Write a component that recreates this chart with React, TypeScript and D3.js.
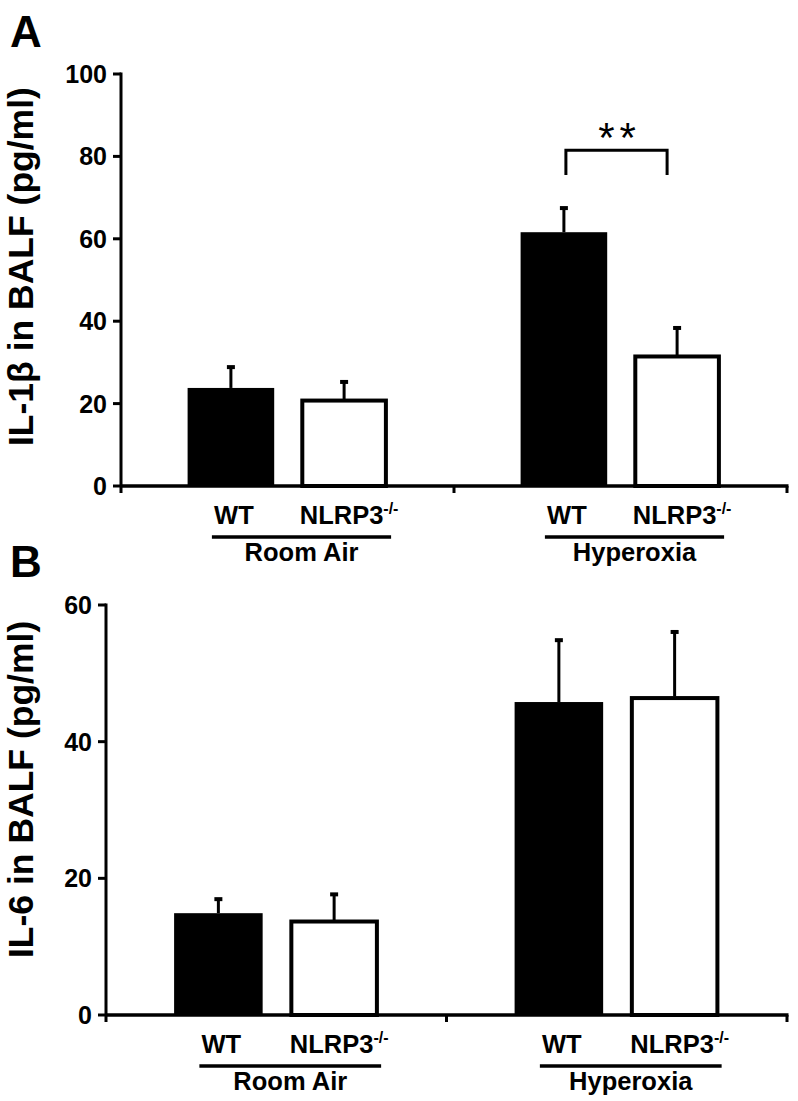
import React from "react";
import * as d3 from "d3";

// ---- data ----
const groups = ["Room Air", "Hyperoxia"];
const genotypes = ["WT", "NLRP3"];
// order: [Room Air WT, Room Air NLRP3-/-, Hyperoxia WT, Hyperoxia NLRP3-/-]
const il1bMean = [23.8, 21.1, 61.6, 31.8];
const il1bErr = [5.3, 4.4, 6.1, 6.8];
const il6Mean = [14.9, 13.9, 45.8, 46.6];
const il6Err = [2.2, 3.9, 9.2, 9.6];
const il1bTicks = [0, 20, 40, 60, 80, 100];
const il6Ticks = [0, 20, 40, 60];
const il1bSig = { label: "**", top: 81.5, leg: 75.5 };

const FONT = "'Liberation Sans', Arial, Helvetica, sans-serif";

type PanelProps = {
  letter: string;
  letterY: number;
  yLabel: string;
  yLabelStart: number;
  axisX: number;
  xEnd: number;
  yBottom: number;
  yTop: number;
  ticks: number[];
  means: number[];
  errs: number[];
  sig?: { label: string; top: number; leg: number };
};

function Panel(p: PanelProps) {
  const y = d3
    .scaleLinear()
    .domain([0, d3.max(p.ticks) as number])
    .range([p.yBottom, p.yTop]);
  const gx = d3.scaleBand().domain(groups).range([p.axisX, p.xEnd]).padding(0);
  const W = gx.bandwidth();
  const ix = d3
    .scaleBand()
    .domain(genotypes)
    .range([0.2 * W, 0.8 * W])
    .paddingInner(0.235)
    .paddingOuter(0);
  const bw = ix.bandwidth();

  const bars = groups.flatMap((g, gi) =>
    genotypes.map((gt, ti) => {
      const i = gi * 2 + ti;
      const x0 = (gx(g) as number) + (ix(gt) as number);
      return { g, gt, i, x0, cx: x0 + bw / 2, mean: p.means[i], err: p.errs[i] };
    })
  );

  const stroke = "#000";
  return (
    <g>
      <text x={10} y={p.letterY} fontFamily={FONT} fontWeight="bold" fontSize={44}>
        {p.letter}
      </text>
      {/* y label */}
      <text
        transform={`translate(33,${p.yLabelStart}) rotate(-90)`}
        fontFamily={FONT}
        fontWeight="bold"
        fontSize={35.5}
        textAnchor="start"
      >
        {p.yLabel}
      </text>

      {/* bars */}
      {bars.map((b) => {
        const yTopBar = y(b.mean);
        const yErr = y(b.mean + b.err);
        const black = b.gt === "WT";
        return (
          <g key={b.i}>
            <line x1={b.cx} x2={b.cx} y1={yTopBar} y2={yErr} stroke={stroke} strokeWidth={3} />
            <line x1={b.cx - 4} x2={b.cx + 4} y1={yErr + 1} y2={yErr + 1} stroke={stroke} strokeWidth={4} />
            {black ? (
              <rect x={b.x0} y={yTopBar} width={bw} height={p.yBottom - yTopBar} fill="#000" />
            ) : (
              <rect
                x={b.x0 + 1.5}
                y={yTopBar + 1.5}
                width={bw - 3}
                height={p.yBottom - yTopBar - 1.5}
                fill="#fff"
                stroke={stroke}
                strokeWidth={4}
              />
            )}
          </g>
        );
      })}

      {/* y axis */}
      <line x1={p.axisX} x2={p.axisX} y1={p.yTop - 1.5} y2={p.yBottom + 7} stroke={stroke} strokeWidth={3} />
      {p.ticks.map((t) => (
        <g key={t}>
          <line x1={p.axisX - 8} x2={p.axisX} y1={y(t)} y2={y(t)} stroke={stroke} strokeWidth={3} />
          <text
            x={p.axisX - 14}
            y={y(t)}
            dy="0.36em"
            textAnchor="end"
            fontFamily={FONT}
            fontWeight="bold"
            fontSize={25}
          >
            {t}
          </text>
        </g>
      ))}

      {/* x axis */}
      <line x1={p.axisX} x2={p.xEnd + 1.5} y1={p.yBottom} y2={p.yBottom} stroke={stroke} strokeWidth={3.5} />
      {groups.map((g) => (
        <line
          key={g}
          x1={(gx(g) as number) + W}
          x2={(gx(g) as number) + W}
          y1={p.yBottom}
          y2={p.yBottom + 7}
          stroke={stroke}
          strokeWidth={3}
        />
      ))}

      {/* x labels */}
      {groups.map((g, gi) => {
        const bWT = bars[gi * 2];
        const bKO = bars[gi * 2 + 1];
        const u1 = bWT.cx - 19;
        const u2 = bKO.cx + 47;
        return (
          <g key={g} fontFamily={FONT} fontWeight="bold">
            <text x={bWT.cx + 3} y={p.yBottom + 38} textAnchor="middle" fontSize={25.5}>
              WT
            </text>
            <text x={bKO.cx + 5} y={p.yBottom + 38} textAnchor="middle" fontSize={25.5}>
              NLRP3
              <tspan fontSize={16} dy={-10}>
                -/-
              </tspan>
            </text>
            <line x1={u1} x2={u2} y1={p.yBottom + 51} y2={p.yBottom + 51} stroke={stroke} strokeWidth={3.5} />
            <text x={(u1 + u2) / 2} y={p.yBottom + 75} textAnchor="middle" fontSize={25.5}>
              {g}
            </text>
          </g>
        );
      })}

      {/* significance */}
      {p.sig && (() => {
        const a = bars[2].cx + 2;
        const b = bars[3].cx - 10;
        const yt = y(p.sig.top);
        const yl = y(p.sig.leg);
        return (
          <g>
            <path
              d={`M${a},${yl}V${yt}H${b}V${yl}`}
              fill="none"
              stroke={stroke}
              strokeWidth={3}
            />
            <text
              x={(a + b) / 2 + 3}
              y={yt + 2}
              textAnchor="middle"
              fontFamily={FONT}
              fontSize={42}
              letterSpacing={5}
            >
              {p.sig.label}
            </text>
          </g>
        );
      })()}
    </g>
  );
}

export default function App() {
  return (
    <svg
      width={798}
      height={1101}
      viewBox="0 0 798 1101"
      style={{ position: "absolute", left: 0, top: 0, background: "#fff" }}
    >
      <rect width={798} height={1101} fill="#fff" />
      <Panel
        letter="A"
        letterY={47}
        yLabel="IL-1β in BALF (pg/ml)"
        yLabelStart={446}
        axisX={121}
        xEnd={787}
        yBottom={486}
        yTop={74}
        ticks={il1bTicks}
        means={il1bMean}
        errs={il1bErr}
        sig={il1bSig}
      />
      <Panel
        letter="B"
        letterY={577}
        yLabel="IL-6 in BALF (pg/ml)"
        yLabelStart={958}
        axisX={106}
        xEnd={787}
        yBottom={1015}
        yTop={605}
        ticks={il6Ticks}
        means={il6Mean}
        errs={il6Err}
      />
    </svg>
  );
}
